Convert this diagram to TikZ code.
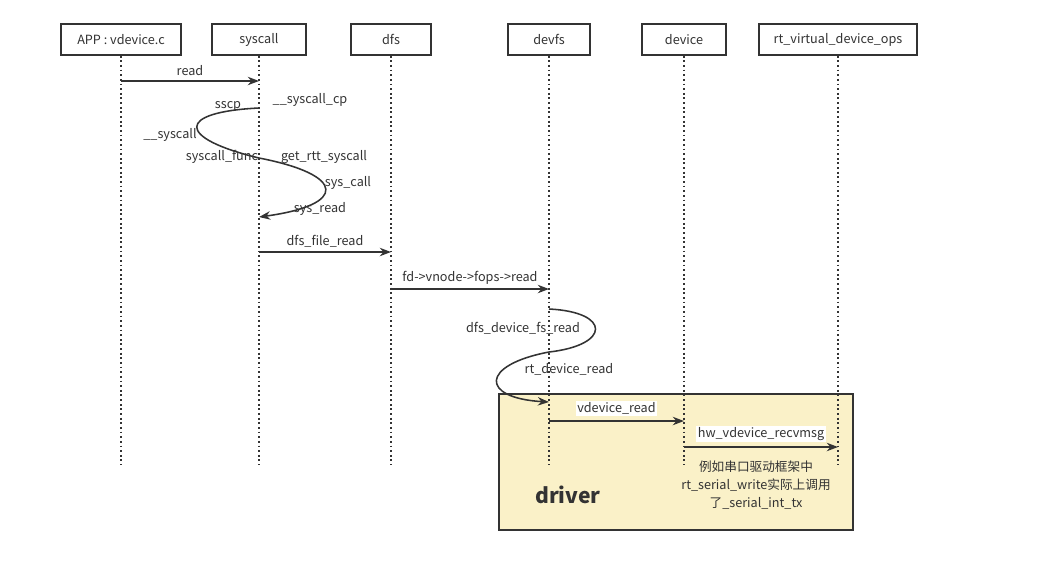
\documentclass[tikz,border=0pt]{standalone}
\usepackage{fontspec}
\setmainfont{Noto Sans CJK SC}
\usetikzlibrary{arrows.meta,positioning}
\definecolor{ink}{RGB}{51,51,51}
\definecolor{drvbg}{RGB}{250,241,200}
\tikzset{head/.style={draw=ink, line width=1pt, fill=white, minimum height=0.775cm, inner sep=2pt, text=ink, font=\fontsize{9}{10}\selectfont}}
\tikzset{life/.style={ink, dotted, line width=1.3pt}}
\tikzset{msg/.style={ink, line width=1.1pt, -{Stealth[length=8pt,width=6pt]}}}
\tikzset{lbl/.style={text=ink, inner sep=1pt, font=\fontsize{9}{10}\selectfont}}

\begin{document}
\begin{tikzpicture}[x=0.025cm,y=-0.025cm]
                    \useasboundingbox (0,0) rectangle (1057,562);
                    % driver box
                    \node[draw=ink, line width=1.4pt, fill=drvbg, minimum width=8.85cm, minimum height=3.4cm] (drvbox) at (676,462) {};
                    \node[text=ink, font=\fontsize{15}{17}\selectfont\bfseries] (drvtxt) at (568,495) {driver};
                    \foreach \n/\x/\w/\t in {app/121/3.0/{APP : vdevice.c}, sysc/259/2.35/syscall, dfs/391/2.0/dfs, devfs/549/2.05/devfs, dev/684/2.1/device, ops/838/3.95/rt\_virtual\_device\_ops}{
                        \node[head, minimum width=\w cm] (\n) at (\x,39.5) {\t};
                        \coordinate (\n-end) at (\x,465);
                        \draw[life] (\n) -- (\n-end);
                        }
                        \draw[msg] (app |- 0,81) -- node[lbl,above=2pt] (l-read) {read} (sysc |- 0,81);
                        \draw[msg] (sysc |- 0,108) .. controls (176,112) and (176,138) .. (sysc |- 0,158)
                            .. controls (347,175) and (347,205) .. (sysc |- 0,217);
                        \node[lbl] (l-sscp) at (228,106) {sscp};
                        \node[lbl] (l-cp) at (310,100) {\_\_syscall\_cp};
                        \node[lbl] (l-sc) at (170,135) {\_\_syscall};
                        \node[lbl] (l-func) at (222,157) {syscall\_func};
                        \node[lbl] (l-rtt) at (324,157) {get\_rtt\_syscall};
                        \node[lbl] (l-call) at (348,183) {sys\_call};
                        \node[lbl] (l-sread) at (320,209) {sys\_read};
                        \draw[msg] (sysc |- 0,252) -- node[lbl,above=2pt] (l-dfs) {dfs\_file\_read} (dfs |- 0,252);
                        \draw[msg] (dfs |- 0,289) -- node[lbl,above=2pt] (l-fops) {fd->vnode->fops->read} (devfs |- 0,289);
                        \draw[msg] (devfs |- 0,309) .. controls (611,312) and (611,345) .. (devfs |- 0,352)
                            .. controls (480,365) and (480,398) .. (devfs |- 0,402);
                        \node[lbl] (l-fsread) at (523,328) {dfs\_device\_fs\_read};
                        \node[lbl] (l-rtread) at (569,369) {rt\_device\_read};
                        \draw[msg] (devfs |- 0,421) -- node[lbl,fill=white,above=3pt] (l-vread) {vdevice\_read} (dev |- 0,421);
                        \draw[msg] (dev |- 0,447) -- node[lbl,fill=white,above=3pt] (l-hw) {hw\_vdevice\_recvmsg} (ops |- 0,447);
                        \node[lbl, align=center, font=\fontsize{9}{12.5}\selectfont] (note) at (756,485) {例如串口驱动框架中\\rt\_serial\_write实际上调用\\了\_serial\_int\_tx};
                \end{tikzpicture}
\end{document}
